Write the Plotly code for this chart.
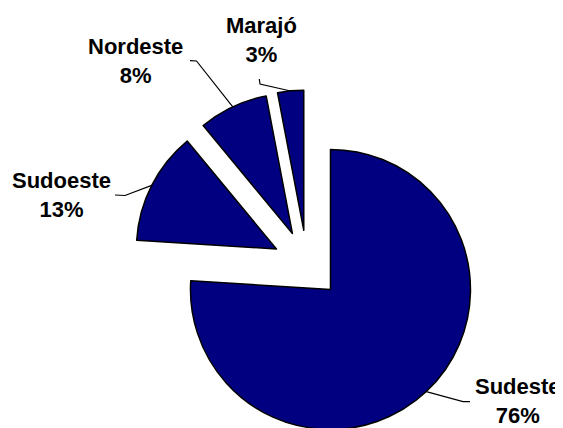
import math
import plotly.graph_objects as go

# ---- data ----
regions = ["Sudeste", "Sudoeste", "Nordeste", "Marajó"]
shares = [76, 13, 8, 3]

# ---- layout constants (pixels, in window coordinates) ----
OFF = 8  # page body margin offset of the figure inside the window
W, H = 563 - OFF, 440
PULL = 0.245
R = 140.0
CX, CY = 307.0 - OFF, 264.5 - OFF
half = R * (1 + PULL)

dom_x = [(CX - half) / W, (CX + half) / W]
dom_y = [max(0.0, (H - (CY + half)) / H), (H - (CY - half)) / H]

# label text centres and leader-line anchor points (window pixels, label side)
label_pos = {
    "Sudeste": (518, 401),
    "Sudoeste": (61, 195),
    "Nordeste": (135, 61),
    "Marajó": (261, 40),
}
leader_pts = {
    "Sudeste": [(470, 401.7), (463, 401.7)],
    "Sudoeste": [(115, 195), (125, 195.5)],
    "Nordeste": [(190, 60.7), (196.5, 61)],
    "Marajó": [(259.3, 79), (260, 84)],
}


def px(x):
    return (x - OFF) / W


def py(y):
    return 1 - (y - OFF) / H


fig = go.Figure(
    go.Pie(
        labels=regions,
        values=shares,
        sort=False,
        direction="clockwise",
        rotation=0,
        pull=[PULL] * len(shares),
        textinfo="none",
        hoverinfo="label+percent",
        marker=dict(colors=["#000080"] * len(shares), line=dict(color="#000000", width=1.5)),
        domain=dict(x=dom_x, y=dom_y),
        showlegend=False,
    )
)

# leader lines: tip at the slice's outer arc at its mid-angle, computed from the data
total = float(sum(shares))
shapes = []
annotations = []
cum = 0.0
for name, v in zip(regions, shares):
    mid = (cum + v / 2) / total * 2 * math.pi
    cum += v
    dx, dy = math.sin(mid), -math.cos(mid)
    tipx = CX + OFF + (1 + PULL) * R * dx
    tipy = CY + OFF + (1 + PULL) * R * dy
    pts = leader_pts[name] + [(tipx, tipy)]
    path = "M " + " L ".join(f"{px(x):.5f},{py(y):.5f}" for x, y in pts)
    shapes.append(dict(type="path", path=path, xref="paper", yref="paper",
                       line=dict(color="#000000", width=1.2)))
    lx, ly = label_pos[name]
    pct = round(v / total * 100)
    annotations.append(dict(
        x=px(lx), y=py(ly), xref="paper", yref="paper",
        text=f"{name}<br>{pct}%", showarrow=False,
        xanchor="center", yanchor="middle", align="center",
        font=dict(family="Liberation Sans, Arial, sans-serif", size=22, color="#000000", weight="bold"),
    ))

fig.update_layout(
    width=W, height=H,
    margin=dict(l=0, r=0, t=0, b=0),
    paper_bgcolor="#ffffff",
    plot_bgcolor="#ffffff",
    shapes=shapes,
    annotations=annotations,
)

fig.write_html("out.html")
